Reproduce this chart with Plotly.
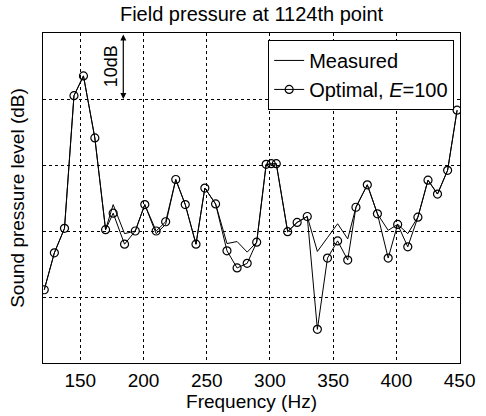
import plotly.graph_objects as go

freq = [121.5, 129.5, 137.5, 145, 152.5, 161.5, 170, 176, 185, 193.5, 201, 210, 217.5,
        225.5, 233, 241.5, 248.5, 257, 266, 274, 282, 289.5, 297, 301, 305, 314, 321.5,
        329.5, 337.5, 345.5, 353.5, 361.5, 368, 377, 385, 393.5, 401, 409, 417, 425,
        432.5, 440.5, 448]

optimal = [41.1, 46.7, 50.4, 70.5, 73.5, 64.1, 50.2, 52.7, 48.0, 50.0, 54.0, 50.0, 51.4,
           57.8, 54.0, 48.0, 56.5, 54.1, 47.0, 44.4, 45.1, 48.3, 60.1, 60.2, 60.2, 49.9, 51.3,
           52.2, 35.1, 45.9, 48.5, 45.6, 53.6, 57.0, 52.6, 45.9, 51.0, 47.6, 52.1, 57.7,
           55.6, 59.2, 68.3]

measured = [41.1, 46.7, 50.4, 70.5, 73.5, 64.1, 50.2, 54.0, 49.6, 50.0, 54.0, 49.6, 51.0,
            57.8, 54.0, 48.0, 56.5, 54.1, 48.1, 48.4, 46.8, 48.3, 60.1, 60.2, 60.2, 49.9, 51.3,
            52.2, 46.9, 49.0, 51.1, 48.8, 53.6, 57.0, 52.6, 50.1, 51.0, 49.6, 52.1, 57.7,
            55.6, 59.2, 68.3]

x_ticks = [150, 200, 250, 300, 350, 400, 450]
y_grid = [30, 40, 50, 60, 70, 80]

FONT = "Liberation Sans, Arial, sans-serif"

fig = go.Figure()
fig.add_trace(go.Scatter(x=freq, y=measured, mode="lines", name="Measured",
                         line=dict(color="black", width=1)))
fig.add_trace(go.Scatter(x=freq, y=optimal, mode="lines+markers", name="Optimal, <i>E</i>=100",
                         line=dict(color="black", width=1),
                         marker=dict(symbol="circle-open", size=8, color="black",
                                     line=dict(width=1.2, color="black"))))

# 10 dB scale arrow
fig.add_annotation(x=184, y=70, ax=184, ay=80, xref="x", yref="y", axref="x", ayref="y",
                   text="", showarrow=True, arrowhead=2, arrowside="end+start",
                   arrowsize=1, arrowwidth=1.2, arrowcolor="black")
fig.add_annotation(x=174.5, y=75, xref="x", yref="y", text="10dB", showarrow=False,
                   textangle=-90, font=dict(family=FONT, size=18, color="black"))

fig.update_layout(
    width=486, height=416,
    margin=dict(l=43, r=26, t=33, b=53, autoexpand=False),
    paper_bgcolor="white", plot_bgcolor="white",
    title=dict(text="Field pressure at 1124th point", x=0.5, xanchor="center",
               xref="paper", y=0.967, yanchor="middle",
               font=dict(family=FONT, size=20, color="black")),
    font=dict(family=FONT, size=19, color="black"),
    showlegend=True,
    legend=dict(x=0.986, y=0.979, xanchor="right", yanchor="top",
                bgcolor="white", bordercolor="black", borderwidth=1,
                font=dict(family=FONT, size=20, color="black"),
                tracegroupgap=0),
    xaxis=dict(range=[120.5, 450.3], tickvals=x_ticks, showgrid=True,
               gridcolor="black", gridwidth=1, griddash="3px,3px",
               showline=True, linecolor="black", linewidth=1, mirror=True,
               ticks="", zeroline=False, automargin=False,
               title=dict(text="Frequency (Hz)", standoff=0,
                          font=dict(family=FONT, size=19)),
               tickfont=dict(family=FONT, size=19)),
    yaxis=dict(range=[30, 80], tickvals=y_grid, showticklabels=False, showgrid=True,
               gridcolor="black", gridwidth=1, griddash="3px,3px",
               showline=True, linecolor="black", linewidth=1, mirror=True,
               ticks="", zeroline=False, automargin=False,
               title=dict(text="Sound pressure level (dB)", standoff=12,
                          font=dict(family=FONT, size=19))),
)

fig.write_html("out.html", config={"displayModeBar": False},
               post_script="document.body.style.margin='0';")
